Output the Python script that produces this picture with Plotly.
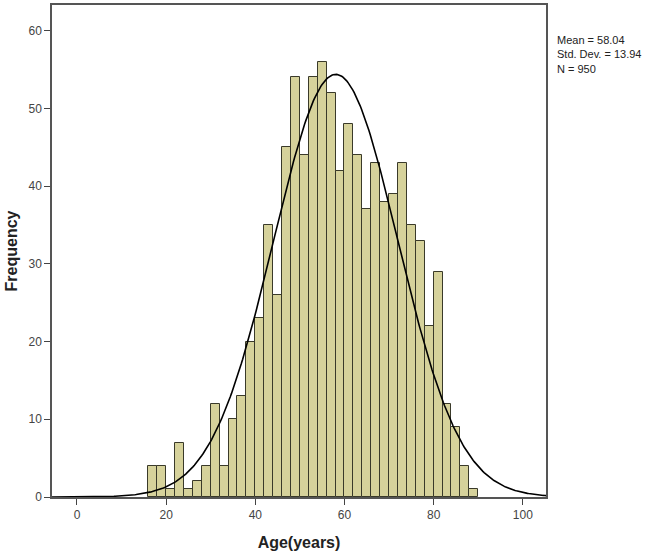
import numpy as np
import plotly.graph_objects as go

# Histogram data (bin width 2 years)
bin_left = [16, 18, 20, 22, 24, 26, 28, 30, 32, 34, 36, 38, 40, 42, 44, 46, 48, 50, 52,
            54, 56, 58, 60, 62, 64, 66, 68, 70, 72, 74, 76, 78, 80, 82, 84, 86, 88]
counts = [4, 4, 1, 7, 1, 2, 4, 12, 4, 10, 13, 20, 23, 35, 26, 45, 54, 44, 54,
          56, 52, 42, 48, 44, 37, 43, 38, 39, 43, 35, 33, 22, 29, 12, 9, 4, 1]
BIN_W = 2
MEAN = 58.04
SD = 13.94
N = 950

x_ticks = [0, 20, 40, 60, 80, 100]
y_ticks = [0, 10, 20, 30, 40, 50, 60]
X_RANGE = [-5.6, 105.2]
Y_RANGE = [0, 63.3]

centers = [b + BIN_W / 2 for b in bin_left]

# fitted normal curve
xc = np.linspace(X_RANGE[0], X_RANGE[1], 400)
yc = N * BIN_W * np.exp(-0.5 * ((xc - MEAN) / SD) ** 2) / (SD * np.sqrt(2 * np.pi))

fig = go.Figure()
fig.add_trace(go.Bar(x=centers, y=counts, width=BIN_W,
                     marker=dict(color="#d6d29b", line=dict(color="#3a3a2a", width=1)),
                     showlegend=False))
fig.add_trace(go.Scatter(x=xc, y=yc, mode="lines", line=dict(color="black", width=1.6),
                         showlegend=False))

font_family = "Liberation Sans, Arial, sans-serif"
fig.update_layout(
    width=657, height=554,
    margin=dict(l=52, r=111, t=3, b=57),
    paper_bgcolor="white", plot_bgcolor="white",
    font=dict(family=font_family, color="#333333", size=12),
    bargap=0,
    xaxis=dict(range=X_RANGE, tickvals=x_ticks, showgrid=False, zeroline=False,
               showline=True, linecolor="#555555", linewidth=1.5, mirror=True,
               ticks="outside", ticklen=6, tickcolor="#444444",
               tickfont=dict(size=12, color="#444444"),
               title=dict(text="<b>Age(years)</b>", font=dict(size=16, color="#222222"), standoff=16)),
    yaxis=dict(range=Y_RANGE, tickvals=y_ticks, showgrid=False, zeroline=False,
               showline=True, linecolor="#555555", linewidth=1.5, mirror=True,
               ticks="outside", ticklen=6, tickcolor="#444444",
               tickfont=dict(size=12, color="#444444"),
               title=dict(text="<b>Frequency</b>", font=dict(size=16, color="#222222"), standoff=7)),
    annotations=[dict(xref="paper", yref="paper", x=1.018, y=0.945, xanchor="left", yanchor="top",
                      align="left", showarrow=False,
                      text=f"Mean = {MEAN:.2f}<br>Std. Dev. = {SD:.2f}<br>N = {N}",
                      font=dict(size=11, color="#222222"))],
)

fig.write_html("out.html", config={"displayModeBar": False},
               post_script="document.body.style.margin='0';document.body.style.padding='0';")
